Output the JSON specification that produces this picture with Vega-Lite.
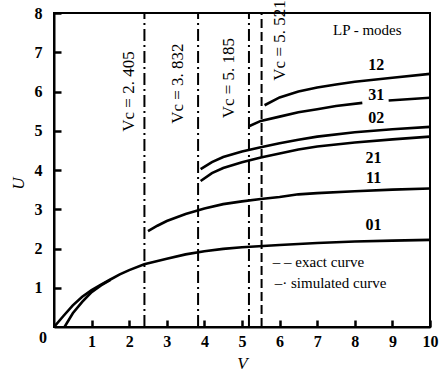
{
  "$schema": "https://vega.github.io/schema/vega-lite/v6.json",
  "width": 376,
  "height": 314,
  "autosize": {"type": "none"},
  "padding": {"left": 54, "top": 13, "right": 9, "bottom": 51},
  "background": "white",
  "config": {
    "font": "Liberation Serif",
    "view": {"stroke": "black", "strokeWidth": 2},
    "axis": {
      "domainColor": "black", "domainWidth": 2, "tickColor": "black", "tickWidth": 2.5,
      "grid": false, "labelColor": "black", "titleColor": "black",
      "labelFont": "Liberation Serif", "labelFontSize": 16, "labelFontWeight": "bold",
      "titleFont": "Liberation Serif", "titleFontStyle": "italic", "titleFontWeight": "normal", "titleFontSize": 17
    }
  },
  "datasets": {
    "curves": [
      {"mode": "01", "V": 0, "U": 0}, {"mode": "01", "V": 0.25, "U": 0.28}, {"mode": "01", "V": 0.5, "U": 0.55},
      {"mode": "01", "V": 0.75, "U": 0.77}, {"mode": "01", "V": 1, "U": 0.94}, {"mode": "01", "V": 1.25, "U": 1.08},
      {"mode": "01", "V": 1.5, "U": 1.21}, {"mode": "01", "V": 1.75, "U": 1.34}, {"mode": "01", "V": 2, "U": 1.45},
      {"mode": "01", "V": 2.4, "U": 1.6}, {"mode": "01", "V": 3, "U": 1.74}, {"mode": "01", "V": 3.5, "U": 1.85},
      {"mode": "01", "V": 4, "U": 1.93}, {"mode": "01", "V": 4.5, "U": 1.99}, {"mode": "01", "V": 5, "U": 2.03},
      {"mode": "01", "V": 6, "U": 2.09}, {"mode": "01", "V": 7, "U": 2.14}, {"mode": "01", "V": 8, "U": 2.18},
      {"mode": "01", "V": 9, "U": 2.2}, {"mode": "01", "V": 10, "U": 2.22},
      {"mode": "01s", "V": 0.28, "U": 0}, {"mode": "01s", "V": 0.5, "U": 0.35}, {"mode": "01s", "V": 0.75, "U": 0.64},
      {"mode": "01s", "V": 1, "U": 0.89}, {"mode": "01s", "V": 1.25, "U": 1.06}, {"mode": "01s", "V": 1.5, "U": 1.2},
      {"mode": "11", "V": 2.5, "U": 2.44}, {"mode": "11", "V": 2.75, "U": 2.58}, {"mode": "11", "V": 3, "U": 2.7},
      {"mode": "11", "V": 3.5, "U": 2.88}, {"mode": "11", "V": 4, "U": 3.02}, {"mode": "11", "V": 4.5, "U": 3.13},
      {"mode": "11", "V": 5, "U": 3.2}, {"mode": "11", "V": 5.5, "U": 3.26}, {"mode": "11", "V": 6, "U": 3.31},
      {"mode": "11", "V": 6.5, "U": 3.38}, {"mode": "11", "V": 7, "U": 3.41}, {"mode": "11", "V": 8, "U": 3.46},
      {"mode": "11", "V": 9, "U": 3.5}, {"mode": "11", "V": 10, "U": 3.53},
      {"mode": "21", "V": 3.9, "U": 3.72}, {"mode": "21", "V": 4.2, "U": 3.92}, {"mode": "21", "V": 4.5, "U": 4.05},
      {"mode": "21", "V": 5, "U": 4.2}, {"mode": "21", "V": 5.5, "U": 4.32}, {"mode": "21", "V": 6, "U": 4.42},
      {"mode": "21", "V": 6.5, "U": 4.52}, {"mode": "21", "V": 7, "U": 4.6}, {"mode": "21", "V": 8, "U": 4.7},
      {"mode": "21", "V": 9, "U": 4.78}, {"mode": "21", "V": 10, "U": 4.85},
      {"mode": "02", "V": 3.9, "U": 4.02}, {"mode": "02", "V": 4.2, "U": 4.2}, {"mode": "02", "V": 4.5, "U": 4.33},
      {"mode": "02", "V": 5, "U": 4.47}, {"mode": "02", "V": 5.5, "U": 4.58}, {"mode": "02", "V": 6, "U": 4.68},
      {"mode": "02", "V": 6.5, "U": 4.77}, {"mode": "02", "V": 7, "U": 4.85}, {"mode": "02", "V": 8, "U": 4.96},
      {"mode": "02", "V": 9, "U": 5.04}, {"mode": "02", "V": 10, "U": 5.1},
      {"mode": "31a", "V": 5.2, "U": 5.12}, {"mode": "31a", "V": 5.5, "U": 5.25}, {"mode": "31a", "V": 6, "U": 5.36},
      {"mode": "31a", "V": 6.5, "U": 5.47}, {"mode": "31a", "V": 7, "U": 5.55}, {"mode": "31a", "V": 7.5, "U": 5.63},
      {"mode": "31a", "V": 8.2, "U": 5.71},
      {"mode": "31b", "V": 8.9, "U": 5.77}, {"mode": "31b", "V": 9.5, "U": 5.81}, {"mode": "31b", "V": 10, "U": 5.84},
      {"mode": "12", "V": 5.6, "U": 5.65}, {"mode": "12", "V": 6, "U": 5.85}, {"mode": "12", "V": 6.5, "U": 6.0},
      {"mode": "12", "V": 7, "U": 6.1}, {"mode": "12", "V": 7.5, "U": 6.18}, {"mode": "12", "V": 8, "U": 6.25},
      {"mode": "12", "V": 9, "U": 6.35}, {"mode": "12", "V": 10, "U": 6.45}
    ],
    "cutoffs": [
      {"V": 2.405, "U": 0, "U2": 8, "style": "dashdot"},
      {"V": 3.832, "U": 0, "U2": 8, "style": "dashdot"},
      {"V": 5.185, "U": 0, "U2": 8, "style": "dashdot"},
      {"V": 5.521, "U": 0, "U2": 8, "style": "dash"}
    ],
    "cutoffLabels": [
      {"V": 2.0, "U": 6.0, "label": "Vc = 2. 405"},
      {"V": 3.3, "U": 6.2, "label": "Vc = 3. 832"},
      {"V": 4.65, "U": 6.34, "label": "Vc = 5. 185"},
      {"V": 6.02, "U": 7.3, "label": "Vc = 5. 521"}
    ],
    "labels": [
      {"V": 8.57, "U": 6.67, "text": "12"},
      {"V": 8.57, "U": 5.91, "text": "31"},
      {"V": 8.57, "U": 5.32, "text": "02"},
      {"V": 8.5, "U": 4.3, "text": "21"},
      {"V": 8.5, "U": 3.8, "text": "11"},
      {"V": 8.5, "U": 2.6, "text": "01"},
      {"V": -0.29, "U": -0.28, "text": "0"}
    ],
    "legendText": [
      {"V": 7.42, "U": 7.57, "text": "LP - modes"},
      {"V": 5.82, "U": 1.66, "text": "–  – exact curve"},
      {"V": 5.87, "U": 1.12, "text": "–· simulated curve"}
    ]
  },
  "encoding": {
    "x": {"field": "V", "type": "quantitative", "scale": {"domain": [0, 10], "nice": false},
      "axis": {"values": [1,2,3,4,5,6,7,8,9,10], "labelOverlap": false, "labelFlush": false, "labelBound": false,
        "tickSize": -7, "labelPadding": 13, "title": "V", "titlePadding": 6}},
    "y": {"field": "U", "type": "quantitative", "scale": {"domain": [0, 8], "nice": false},
      "axis": {"values": [1,2,3,4,5,6,7,8], "labelOverlap": false, "labelFlush": false, "tickSize": -7,
        "labelPadding": 19, "title": "U", "titleX": -27, "titleY": 170}}
  },
  "layer": [
    {
      "data": {"name": "curves"},
      "mark": {"type": "line", "color": "black", "strokeWidth": 2.6, "clip": true},
      "encoding": {"detail": {"field": "mode"}}
    },
    {
      "data": {"name": "cutoffs"},
      "mark": {"type": "rule", "color": "black", "strokeWidth": 2},
      "encoding": {
        "y2": {"field": "U2"},
        "strokeDash": {"field": "style", "type": "nominal", "scale": {"domain": ["dashdot", "dash"], "range": [[12, 4, 2, 4], [9, 4]]}, "legend": null}
      }
    },
    {
      "data": {"name": "cutoffLabels"},
      "mark": {"type": "text", "angle": 270, "align": "center", "baseline": "middle", "fontSize": 17, "color": "black", "clip": false},
      "encoding": {"text": {"field": "label"}}
    },
    {
      "data": {"name": "labels"},
      "mark": {"type": "text", "align": "center", "baseline": "middle", "fontSize": 16, "fontWeight": "bold", "color": "black", "clip": false},
      "encoding": {"text": {"field": "text"}}
    },
    {
      "data": {"name": "legendText"},
      "mark": {"type": "text", "align": "left", "baseline": "middle", "fontSize": 15, "color": "black", "clip": false},
      "encoding": {"text": {"field": "text"}}
    }
  ]
}
